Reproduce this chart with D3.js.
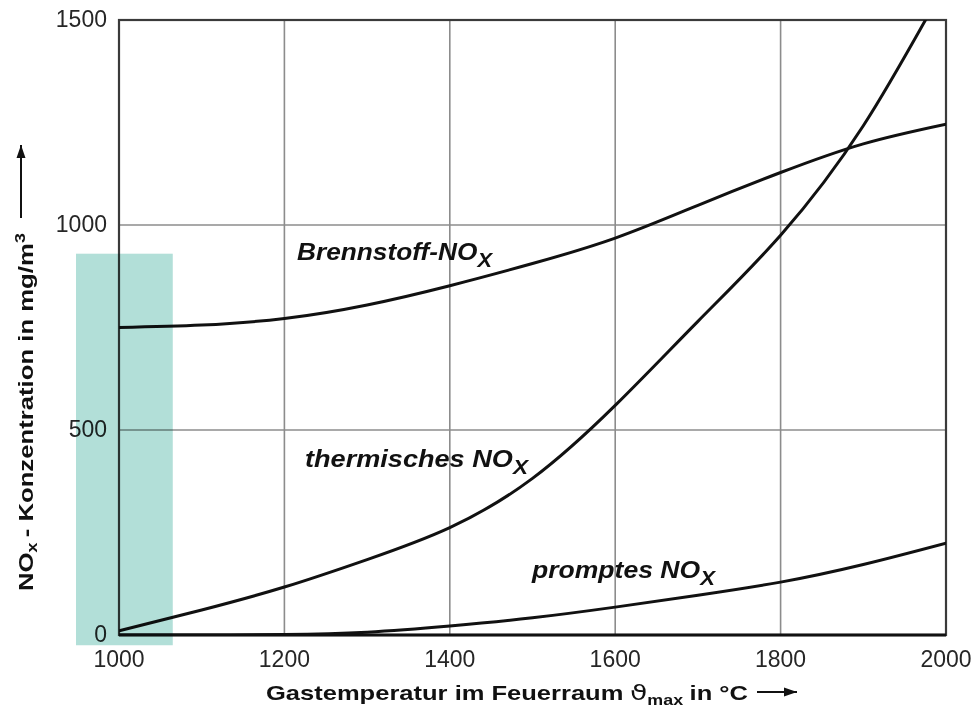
<!DOCTYPE html>
<html><head><meta charset="utf-8">
<script src="https://cdn.jsdelivr.net/npm/d3@7"></script>
<style>body{margin:0;background:#fff}svg{display:block}text{font-family:"Liberation Sans",Arial,Helvetica,sans-serif}</style>
</head><body>
<svg id="c" width="979" height="714"></svg>
<script>
// ---- data ----
const temps       = [1000,1100,1200,1300,1400,1500,1600,1700,1800,1900,2000];
const brennstoff  = [750, 756, 772, 805, 852, 906, 968,1048,1128,1198,1246];
const thermisch   = [10,  61, 117, 184, 262, 382, 560, 765, 975,1242,1590];
const promptes    = [0,   0,   1,   7,  22,  42,  68,  97, 129, 172, 224];
const xTicks = [1000,1200,1400,1600,1800,2000];
const yTicks = [0,500,1000,1500];
const xGrid  = [1200,1400,1600,1800];
const yGrid  = [500,1000];
const highlightT = [948,1065];
const highlightV = [-25,930];

const svg = d3.select('#c');
const x = d3.scaleLinear().domain([1000,2000]).range([119,946]);
const y = d3.scaleLinear().domain([0,1500]).range([635,20]);

svg.append('defs').append('clipPath').attr('id','clip')
  .append('rect').attr('x',x(1000)).attr('y',y(1500)).attr('width',x(2000)-x(1000)).attr('height',y(0)-y(1500));

// grid
svg.append('g').selectAll('line').data(xGrid).join('line')
  .attr('x1',d=>x(d)).attr('x2',d=>x(d)).attr('y1',y(1500)).attr('y2',y(0))
  .attr('stroke','#8c8c8c').attr('stroke-width',1.6);
svg.append('g').selectAll('line').data(yGrid).join('line')
  .attr('y1',d=>y(d)).attr('y2',d=>y(d)).attr('x1',x(1000)).attr('x2',x(2000))
  .attr('stroke','#8c8c8c').attr('stroke-width',1.6);

// frame
svg.append('rect').attr('x',x(1000)).attr('y',y(1500)).attr('width',x(2000)-x(1000)).attr('height',y(0)-y(1500))
  .attr('fill','none').attr('stroke','#3a3a3a').attr('stroke-width',2.2);
svg.append('line').attr('x1',x(1000)).attr('x2',x(2000)).attr('y1',y(0)).attr('y2',y(0))
  .attr('stroke','#111').attr('stroke-width',3.2);

// curves
const line = d3.line().x((d,i)=>x(temps[i])).y(d=>y(d)).curve(d3.curveNatural);
const cg = svg.append('g').attr('clip-path','url(#clip)');
[brennstoff,thermisch,promptes].forEach(s=>{
  cg.append('path').attr('d',line(s)).attr('fill','none').attr('stroke','#111').attr('stroke-width',3).attr('stroke-linecap','round');
});

// tick labels
svg.append('g').selectAll('text').data(xTicks).join('text')
  .attr('x',d=>x(d)).attr('y',667).attr('text-anchor','middle').attr('font-size',23).attr('fill','#262626').text(d=>d);
svg.append('g').selectAll('text').data(yTicks).join('text')
  .attr('x',107).attr('y',d=>y(d)+6.8).attr('text-anchor','end').attr('font-size',23).attr('fill','#262626').text(d=>d);

// rich text helper
function rich(x0,y0,rot,targetLen,pieces){
  const g = svg.append('g').attr('transform',`translate(${x0},${y0}) rotate(${rot})`);
  const inner = g.append('g');
  let cx = 0;
  pieces.forEach(p=>{
    const t = inner.append('text').attr('x',cx).attr('y',p.dy||0)
      .attr('font-size',p.size).attr('font-weight',p.weight||'bold')
      .attr('font-style',p.style||'normal').attr('fill','#111').text(p.t);
    if(p.family) t.style('font-family',p.family);
    cx += t.node().getComputedTextLength() + (p.gap||0);
  });
  if(targetLen) inner.attr('transform',`scale(${targetLen/cx},1)`);
}

// curve labels
rich(297,260,0,195,[{t:'Brennstoff-NO',size:24,style:'italic'},{t:'X',size:20,dy:7,style:'italic'}]);
rich(305,467,0,223,[{t:'thermisches NO',size:24,style:'italic'},{t:'X',size:20,dy:7,style:'italic'}]);
rich(532,578,0,183,[{t:'promptes NO',size:24,style:'italic'},{t:'X',size:20,dy:7,style:'italic'}]);

// axis titles
rich(266,700,0,482,[
  {t:'Gastemperatur im Feuerraum',size:20,gap:5},
  {t:'\u03D1',size:22,weight:'normal',family:'"DejaVu Sans",sans-serif'},
  {t:'max',size:14,dy:5,gap:5},
  {t:'in °C',size:20}
]);
rich(33,591,-90,358,[
  {t:'NO',size:20},
  {t:'x',size:14,dy:4,gap:4},
  {t:'- Konzentration in mg/m',size:20},
  {t:'3',size:14,dy:-8}
]);

// arrows
function arrow(x1,y1,x2,y2){
  svg.append('line').attr('x1',x1).attr('y1',y1).attr('x2',x2).attr('y2',y2).attr('stroke','#111').attr('stroke-width',2);
  const a = Math.atan2(y2-y1,x2-x1), L=13, W=4.5;
  const bx = x2 - L*Math.cos(a), by = y2 - L*Math.sin(a);
  const px = -Math.sin(a)*W, py = Math.cos(a)*W;
  svg.append('path').attr('d',`M${x2},${y2}L${bx+px},${by+py}L${bx-px},${by-py}Z`).attr('fill','#111');
}
arrow(757,692,797,692);
arrow(21,218,21,145);

// highlight
svg.append('rect').attr('x',x(highlightT[0])).attr('y',y(highlightV[1]))
  .attr('width',x(highlightT[1])-x(highlightT[0])).attr('height',y(highlightV[0])-y(highlightV[1]))
  .attr('fill','#b2dfd8').style('mix-blend-mode','multiply');
</script>
</body></html>
